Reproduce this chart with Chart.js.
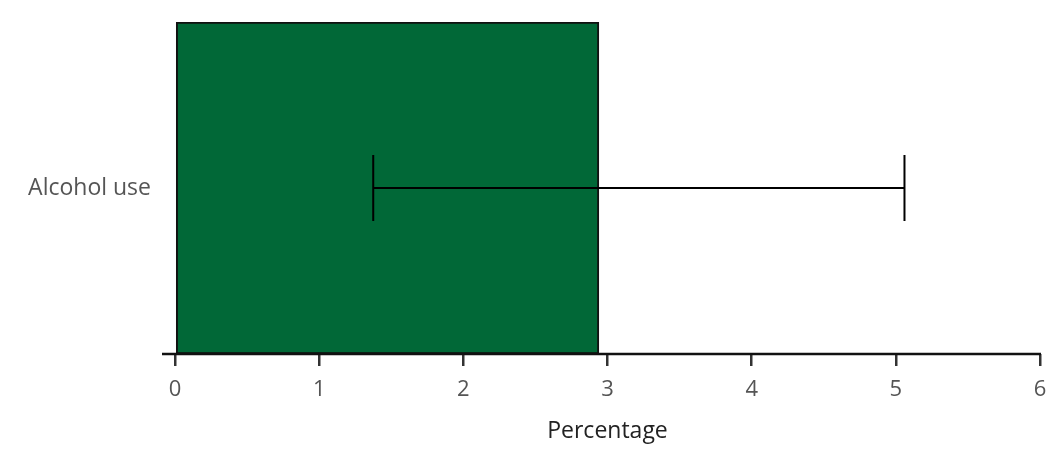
<!DOCTYPE html>
<html>
<head>
<meta charset="utf-8">
<script src="https://cdn.jsdelivr.net/npm/chart.js@4.4.0/dist/chart.umd.min.js"></script>
<style>
  html, body { margin: 0; padding: 0; background: #fff; }
  #wrap { width: 1062px; height: 470px; position: relative; }
</style>
</head>
<body>
<div id="wrap"><canvas id="chart"></canvas></div>
<script>
const categories = ["Alcohol use"]
const values = [2.94]
const lowerCI = [1.375]
const upperCI = [5.06]
const xTicks = [0, 1, 2, 3, 4, 5, 6]

// error bars + axis line drawn over the bars
const errorBars = {
  id: "errorBars",
  afterDatasetsDraw(chart) {
    const ctx = chart.ctx
    const x = chart.scales.x, y = chart.scales.y
    ctx.save()
    ctx.strokeStyle = "#000"
    ctx.lineWidth = 2
    categories.forEach((c, i) => {
      const yc = y.getPixelForValue(i)
      const x0 = x.getPixelForValue(lowerCI[i])
      const x1 = x.getPixelForValue(upperCI[i])
      const cap = 33
      ctx.beginPath()
      ctx.moveTo(x0, yc); ctx.lineTo(x1, yc)
      ctx.moveTo(x0, yc - cap); ctx.lineTo(x0, yc + cap)
      ctx.moveTo(x1, yc - cap); ctx.lineTo(x1, yc + cap)
      ctx.stroke()
    })
    // axis line, runs a bit past zero on the left
    ctx.strokeStyle = "#111"
    ctx.lineWidth = 2.5
    ctx.beginPath()
    ctx.moveTo(x.left - 13, x.top)
    ctx.lineTo(x.right + 1, x.top)
    ctx.stroke()
    ctx.restore()
  }
}

new Chart(document.getElementById("chart"), {
  type: "bar",
  data: {
    labels: categories,
    datasets: [{
      data: values,
      backgroundColor: "#016837",
      borderColor: "#111",
      borderWidth: 2,
      borderSkipped: false,
      barPercentage: 1,
      categoryPercentage: 1
    }]
  },
  options: {
    indexAxis: "y",
    responsive: true,
    maintainAspectRatio: false,
    animation: false,
    layout: { padding: { top: 22, right: 22, left: 0, bottom: 25 } },
    plugins: { legend: { display: false }, tooltip: { enabled: false } },
    scales: {
      x: {
        min: 0,
        max: 6,
        afterBuildTicks: s => { s.ticks = xTicks.map(v => ({ value: v })) },
        afterFit: s => { s.height = 91 },
        border: { display: false },
        grid: { drawOnChartArea: false, drawTicks: true, tickLength: 12, color: "#333", lineWidth: 2.5 },
        ticks: { color: "#555", font: { family: "Open Sans", size: 22 }, padding: 11 },
        title: { display: true, text: "Percentage", color: "#222", font: { family: "Open Sans", size: 23 }, padding: { top: 4, bottom: 0 } }
      },
      y: {
        afterFit: s => { s.width = 175; s.paddingTop = 0; s.paddingBottom = 0 },
        border: { display: false },
        grid: { display: false },
        ticks: { color: "#555", font: { family: "Open Sans", size: 23 }, padding: 16 }
      }
    }
  },
  plugins: [errorBars]
})
</script>
</body>
</html>
